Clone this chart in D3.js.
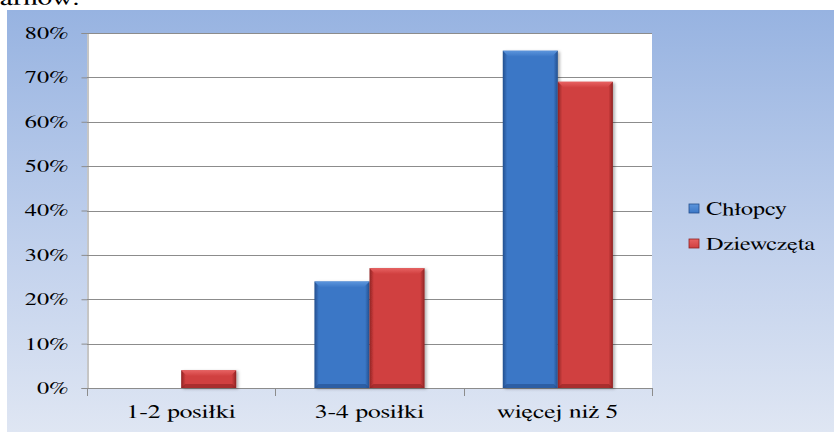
<!DOCTYPE html>
<html>
<head>
<meta charset="utf-8">
<script src="https://cdn.jsdelivr.net/npm/d3@7"></script>
<style>
  html, body { margin: 0; padding: 0; background: #fff; }
  svg { display: block; }
  svg text { font-family: FreeSerif, "Liberation Serif", "Times New Roman", serif; }
</style>
</head>
<body>
<svg id="chart" width="834" height="432"></svg>
<script>
// Liczba posiłków dziennie – odsetek uczniów
const categories = ["1-2 posiłki", "3-4 posiłki", "więcej niż 5"];
const seriesNames = ["Chłopcy", "Dziewczęta"];
const chlopcy = [0, 24, 76];
const dziewczeta = [4, 27, 69];
const yTicks = [0, 10, 20, 30, 40, 50, 60, 70, 80];

const series = [
  { name: seriesNames[0], values: chlopcy, light: "#5c95dc", mid: "#3b77c6", dark: "#234f8e" },
  { name: seriesNames[1], values: dziewczeta, light: "#e76262", mid: "#d03f3f", dark: "#8f2323" }
];

const svg = d3.select("#chart");
const W = 834, H = 432;
const stretch = 1.35; // text is drawn horizontally widened

// place a text at x with horizontal widening
function widen(sel, x) {
  sel.attr("x", 0).attr("transform", `translate(${x},0) scale(${stretch},1)`);
}

const defs = svg.append("defs");
const bg = defs.append("linearGradient").attr("id", "bg").attr("x1", 0).attr("y1", 0).attr("x2", 0).attr("y2", 1);
bg.append("stop").attr("offset", "0%").attr("stop-color", "#97b3e1");
bg.append("stop").attr("offset", "55%").attr("stop-color", "#c0d0ec");
bg.append("stop").attr("offset", "100%").attr("stop-color", "#dfe6f3");

series.forEach((s, i) => {
  const g = defs.append("linearGradient").attr("id", "bar" + i).attr("x1", 0).attr("y1", 0).attr("x2", 1).attr("y2", 0);
  g.append("stop").attr("offset", "0%").attr("stop-color", s.dark);
  g.append("stop").attr("offset", "8%").attr("stop-color", s.mid);
  g.append("stop").attr("offset", "50%").attr("stop-color", s.mid);
  g.append("stop").attr("offset", "92%").attr("stop-color", s.mid);
  g.append("stop").attr("offset", "100%").attr("stop-color", s.dark);
  const t = defs.append("linearGradient").attr("id", "top" + i).attr("x1", 0).attr("y1", 0).attr("x2", 0).attr("y2", 1);
  t.append("stop").attr("offset", "0%").attr("stop-color", s.light);
  t.append("stop").attr("offset", "100%").attr("stop-color", s.mid);
});

const shadow = defs.append("filter").attr("id", "shadow").attr("x", "-20%").attr("y", "-20%").attr("width", "150%").attr("height", "150%");
shadow.append("feDropShadow").attr("dx", 2).attr("dy", 1).attr("stdDeviation", 1.5).attr("flood-color", "#000").attr("flood-opacity", 0.3);

// End of the document sentence above the chart
svg.append("text").attr("y", 5).style("font-size", "22px").attr("fill", "#000").text("arnów.")
  .call(widen, 0);

// Chart area background
svg.append("rect").attr("x", 7).attr("y", 10).attr("width", W - 7).attr("height", H - 10).attr("fill", "url(#bg)");

const plot = { left: 87, top: 33, right: 652, bottom: 388 };

const x0 = d3.scaleBand().domain(categories).range([plot.left, plot.right]).paddingInner(0).paddingOuter(0);
const x1 = d3.scaleBand().domain(seriesNames).range([0, x0.bandwidth()]).paddingInner(0).paddingOuter(0.71);
const y = d3.scaleLinear().domain([0, 80]).range([plot.bottom, plot.top]);

// Plot background
svg.append("rect").attr("x", plot.left).attr("y", plot.top)
  .attr("width", plot.right - plot.left).attr("height", plot.bottom - plot.top).attr("fill", "#fff");

// Horizontal grid lines
svg.append("g").selectAll("line").data(yTicks).join("line")
  .attr("x1", plot.left).attr("x2", plot.right)
  .attr("y1", d => Math.round(y(d)) + 0.5).attr("y2", d => Math.round(y(d)) + 0.5)
  .attr("stroke", "#8c8c8c").attr("stroke-width", 1);

// Y axis
const yAxis = svg.append("g").attr("transform", `translate(${plot.left + 0.5},0)`)
  .call(d3.axisLeft(y).tickValues(yTicks).tickFormat(d => d + "%").tickSize(6).tickPadding(13));
yAxis.attr("font-family", null);
yAxis.select(".domain").attr("stroke", "#8c8c8c");
yAxis.selectAll(".tick line").attr("stroke", "#8c8c8c");
yAxis.selectAll(".tick text").style("font-size", "18px").attr("fill", "#000").attr("dy", "0.3em")
  .call(widen, -19);

// X axis
const xAxis = svg.append("g").attr("transform", `translate(0,${plot.bottom + 0.5})`)
  .call(d3.axisBottom(x0).tickSize(0).tickPadding(16));
xAxis.attr("font-family", null);
xAxis.select(".domain").remove();
xAxis.selectAll(".tick text").style("font-size", "19px").attr("fill", "#000")
  .call(widen, 0);
svg.append("line").attr("x1", plot.left).attr("x2", plot.right)
  .attr("y1", plot.bottom + 0.5).attr("y2", plot.bottom + 0.5).attr("stroke", "#8c8c8c");
// Category separator ticks
const sepX = categories.map(c => x0(c)).concat([plot.right]);
svg.append("g").selectAll("line").data(sepX).join("line")
  .attr("x1", d => Math.round(d) + 0.5).attr("x2", d => Math.round(d) + 0.5)
  .attr("y1", plot.bottom).attr("y2", plot.bottom + 8)
  .attr("stroke", "#8c8c8c");

// Bars with bevel
const bars = svg.append("g");
series.forEach((s, i) => {
  const g = bars.append("g");
  const data = categories.map((c, k) => ({ c, v: s.values[k] })).filter(d => d.v > 0);
  const bw = x1.bandwidth();
  g.selectAll("rect.body").data(data).join("rect").attr("class", "body")
    .attr("x", d => x0(d.c) + x1(s.name)).attr("y", d => y(d.v))
    .attr("width", bw).attr("height", d => y(0) - y(d.v))
    .attr("fill", `url(#bar${i})`).attr("filter", "url(#shadow)");
  // top bevel
  const b = 6;
  g.selectAll("path.top").data(data).join("path").attr("class", "top")
    .attr("d", d => {
      const xl = x0(d.c) + x1(s.name), yt = y(d.v), h = Math.min(b, y(0) - y(d.v));
      return `M${xl},${yt}L${xl + bw},${yt}L${xl + bw - h},${yt + h}L${xl + h},${yt + h}Z`;
    })
    .attr("fill", `url(#top${i})`);
  // bottom bevel
  g.selectAll("path.bot").data(data).join("path").attr("class", "bot")
    .attr("d", d => {
      const xl = x0(d.c) + x1(s.name), yb = y(0), h = Math.min(4, (y(0) - y(d.v)) / 2);
      return `M${xl},${yb}L${xl + bw},${yb}L${xl + bw - h},${yb - h}L${xl + h},${yb - h}Z`;
    })
    .attr("fill", s.dark).attr("opacity", 0.6);
});

// Legend
const legend = svg.append("g");
series.forEach((s, i) => {
  const ly = 209 + i * 35;
  legend.append("rect").attr("x", 689).attr("y", ly - 5).attr("width", 10).attr("height", 9)
    .attr("fill", `url(#top${i})`).attr("stroke", s.dark).attr("stroke-width", 0.8);
  legend.append("text").attr("y", ly + 6).style("font-size", "18px")
    .attr("fill", "#000").text(s.name).call(widen, 706);
});
</script>
</body>
</html>
